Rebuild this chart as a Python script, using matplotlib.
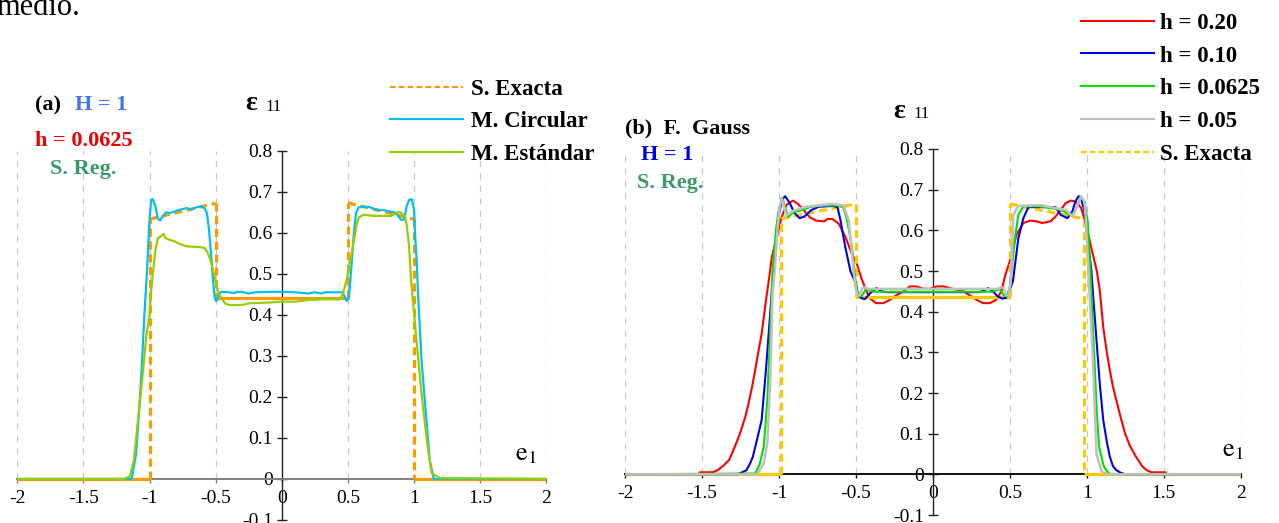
import numpy as np
import matplotlib.pyplot as plt
from matplotlib.collections import LineCollection
from matplotlib.lines import Line2D

plt.rcParams['font.family'] = ['Liberation Serif', 'DejaVu Serif']
plt.rcParams['axes.unicode_minus'] = False
plt.rcParams['mathtext.fontset'] = 'stix'

W, H = 1279, 523

# ---- axis ticks --------------------------------------------------------
x_ticks = [-2, -1.5, -1, -0.5, 0, 0.5, 1, 1.5, 2]
x_tick_labels = ['-2', '-1.5', '-1', '-0.5', '0', '0.5', '1', '1.5', '2']
y_ticks = [-0.1, 0, 0.1, 0.2, 0.3, 0.4, 0.5, 0.6, 0.7, 0.8]
y_tick_labels = ['-0.1', '0', '0.1', '0.2', '0.3', '0.4', '0.5', '0.6', '0.7', '0.8']
grid_x = [-2, -1.5, -1, -0.5, 0.5, 1, 1.5, 2]

# ---- (a) regularised solution, H = 1, h = 0.0625 -----------------------
exact_a_x = [-2, -1, -1, -0.5, -0.5, 0.5, 0.5, 1, 1, 2]
exact_a_y = [0, 0, 0.633, 0.672, 0.44, 0.44, 0.673, 0.633, 0, 0]

circ_a_x = [-2, -1.14, -1.133, -1.118, -1.102, -1.087, -1.07, -1.056, -1.04, -1.019,
            -1.008, -1.0, -0.987, -0.975, -0.955, -0.937, -0.92, -0.9, -0.874, -0.85,
            -0.81, -0.773, -0.72, -0.684, -0.646, -0.61, -0.583, -0.566, -0.55, -0.533,
            -0.52, -0.508, -0.497, -0.487, -0.475, -0.455, -0.40, -0.36, -0.34, -0.30,
            -0.25, -0.20, -0.10, 0.0, 0.10, 0.20, 0.25, 0.30, 0.33, 0.38,
            0.42, 0.46, 0.475, 0.49, 0.505, 0.515, 0.528, 0.545, 0.561, 0.58,
            0.62, 0.66, 0.697, 0.735, 0.773, 0.81, 0.85, 0.874, 0.90, 0.925,
            0.944, 0.962, 0.982, 1.0, 1.008, 1.02, 1.03, 1.056, 1.087, 1.118,
            1.149, 2]
circ_a_y = [0, 0, 0.002, 0.03, 0.06, 0.127, 0.21, 0.288, 0.393, 0.506,
            0.58, 0.632, 0.68, 0.682, 0.664, 0.635, 0.63, 0.64, 0.65, 0.648,
            0.652, 0.656, 0.66, 0.657, 0.662, 0.664, 0.66, 0.648, 0.607, 0.542,
            0.485, 0.445, 0.434, 0.436, 0.452, 0.456, 0.455, 0.453, 0.456, 0.456,
            0.452, 0.455, 0.456, 0.456, 0.455, 0.452, 0.455, 0.452, 0.455, 0.455,
            0.455, 0.455, 0.445, 0.434, 0.44, 0.47, 0.526, 0.6, 0.648, 0.662,
            0.663, 0.663, 0.658, 0.656, 0.655, 0.652, 0.65, 0.644, 0.632, 0.632,
            0.665, 0.68, 0.682, 0.655, 0.59, 0.53, 0.45, 0.29, 0.167, 0.046,
            0, 0]

est_a_x = [-2, -1.196, -1.149, -1.118, -1.087, -1.056, -1.025, -1.0, -0.99, -0.975,
           -0.955, -0.937, -0.912, -0.894, -0.88, -0.85, -0.81, -0.773, -0.72, -0.62,
           -0.583, -0.558, -0.533, -0.508, -0.492, -0.475, -0.455, -0.43, -0.40, -0.30,
           -0.25, -0.10, 0.0, 0.10, 0.20, 0.30, 0.44, 0.46, 0.49, 0.51,
           0.528, 0.55, 0.565, 0.583, 0.62, 0.697, 0.823, 0.861, 0.886, 0.904,
           0.93, 0.944, 0.962, 0.978, 1.009, 1.056, 1.102, 1.133, 1.196, 2]
est_a_y = [0, 0, 0.006, 0.046, 0.143, 0.24, 0.345, 0.40, 0.45, 0.50,
           0.558, 0.587, 0.592, 0.597, 0.587, 0.583, 0.579, 0.573, 0.567, 0.565,
           0.563, 0.55, 0.526, 0.493, 0.469, 0.452, 0.44, 0.428, 0.424, 0.424,
           0.428, 0.43, 0.432, 0.432, 0.436, 0.438, 0.438, 0.45, 0.485, 0.52,
           0.55, 0.591, 0.62, 0.638, 0.644, 0.641, 0.641, 0.648, 0.651, 0.648,
           0.64, 0.62, 0.567, 0.482, 0.369, 0.208, 0.08, 0.014, 0.002, 0]

# ---- (b) Gauss filter, H = 1, several mesh sizes -----------------------
exact_b_x = [-2, -0.985, -0.985, -0.5, -0.5, 0.5, 0.5, 0.985, 0.985, 2]
exact_b_y = [0, 0, 0.629, 0.665, 0.435, 0.435, 0.665, 0.628, 0, 0]

h020_x = [-2, -1.52, -1.515, -1.43, -1.40, -1.36, -1.325, -1.29, -1.254, -1.22,
          -1.198, -1.175, -1.155, -1.135, -1.113, -1.085, -1.065, -1.047, -1.015, -0.983,
          -0.951, -0.909, -0.877, -0.845, -0.80, -0.76, -0.707, -0.685, -0.653, -0.611,
          -0.568, -0.526, -0.494, -0.465, -0.44, -0.41, -0.37, -0.32, -0.28, -0.235,
          -0.19, -0.15, -0.105, -0.06, -0.02, 0.025, 0.07, 0.11, 0.155, 0.2,
          0.24, 0.285, 0.325, 0.37, 0.41, 0.445, 0.47, 0.50, 0.544, 0.588,
          0.632, 0.676, 0.709, 0.764, 0.797, 0.83, 0.863, 0.896, 0.93, 0.963,
          0.996, 1.029, 1.065, 1.085, 1.107, 1.13, 1.15, 1.17, 1.192, 1.22,
          1.249, 1.28, 1.32, 1.36, 1.39, 1.42, 1.51, 1.515, 2]
h020_y = [0, 0, 0.005, 0.005, 0.01, 0.022, 0.035, 0.065, 0.10, 0.14,
          0.174, 0.215, 0.256, 0.30, 0.345, 0.427, 0.48, 0.533, 0.583, 0.632,
          0.663, 0.673, 0.665, 0.652, 0.632, 0.624, 0.622, 0.628, 0.628, 0.616,
          0.583, 0.542, 0.517, 0.483, 0.458, 0.433, 0.421, 0.421, 0.429, 0.441,
          0.45, 0.462, 0.462, 0.456, 0.456, 0.462, 0.462, 0.458, 0.454, 0.45,
          0.44, 0.429, 0.421, 0.421, 0.429, 0.45, 0.49, 0.524, 0.59, 0.618,
          0.624, 0.622, 0.618, 0.622, 0.634, 0.65, 0.667, 0.673, 0.671, 0.655,
          0.614, 0.557, 0.5, 0.45, 0.361, 0.30, 0.255, 0.215, 0.182, 0.14,
          0.10, 0.07, 0.043, 0.02, 0.01, 0.005, 0.005, 0, 0]

h010_x = [-2, -1.268, -1.24, -1.212, -1.19, -1.17, -1.14, -1.113, -1.085, -1.056,
          -1.037, -1.02, -1.0, -0.98, -0.96, -0.93, -0.9, -0.866, -0.834, -0.79,
          -0.74, -0.65, -0.62, -0.60, -0.57, -0.536, -0.506, -0.485, -0.463, -0.442,
          -0.409, -0.366, -0.333, -0.30, 0.30, 0.33, 0.36, 0.39, 0.42, 0.45,
          0.475, 0.50, 0.52, 0.555, 0.588, 0.62, 0.797, 0.83, 0.874, 0.907,
          0.925, 0.947, 0.962, 0.984, 1.006, 1.03, 1.045, 1.065, 1.085, 1.107,
          1.13, 1.15, 1.17, 1.192, 1.22, 1.25, 2]
h010_y = [0, 0, 0.005, 0.01, 0.025, 0.043, 0.09, 0.133, 0.256, 0.402,
          0.5, 0.58, 0.64, 0.675, 0.684, 0.667, 0.643, 0.63, 0.634, 0.65,
          0.658, 0.66, 0.657, 0.624, 0.56, 0.5, 0.474, 0.441, 0.433, 0.431,
          0.445, 0.458, 0.45, 0.448, 0.448, 0.452, 0.458, 0.45, 0.438, 0.432,
          0.434, 0.455, 0.475, 0.58, 0.63, 0.657, 0.657, 0.638, 0.63, 0.647,
          0.671, 0.684, 0.68, 0.647, 0.58, 0.5, 0.42, 0.32, 0.22, 0.133,
          0.08, 0.043, 0.02, 0.01, 0.004, 0, 0]

h00625_x = [-2, -1.155, -1.127, -1.099, -1.076, -1.056, -1.042, -1.02, -1.0, -0.977,
            -0.94, -0.909, -0.866, -0.80, -0.717, -0.61, -0.58, -0.557, -0.526, -0.51,
            -0.495, -0.48, -0.46, -0.435, -0.41, -0.38, 0.38, 0.41, 0.435, 0.46,
            0.48, 0.50, 0.511, 0.533, 0.555, 0.588, 0.687, 0.797, 0.852, 0.885,
            0.918, 0.94, 0.962, 0.984, 1.006, 1.024, 1.037, 1.05, 1.065, 1.08,
            1.11, 1.14, 1.16, 2]
h00625_y = [0, 0.002, 0.023, 0.068, 0.182, 0.362, 0.5, 0.6, 0.655, 0.677,
            0.632, 0.644, 0.648, 0.657, 0.661, 0.661, 0.655, 0.624, 0.559, 0.5,
            0.455, 0.437, 0.44, 0.455, 0.452, 0.449, 0.449, 0.452, 0.456, 0.44,
            0.437, 0.46, 0.5, 0.58, 0.638, 0.659, 0.659, 0.653, 0.647, 0.638,
            0.643, 0.663, 0.68, 0.671, 0.622, 0.5, 0.38, 0.28, 0.15, 0.068,
            0.02, 0.003, 0, 0]

h005_x = [-2, -1.141, -1.099, -1.076, -1.056, -1.042, -1.028, -1.01, -0.995, -0.983,
          -0.951, -0.909, -0.823, -0.653, -0.58, -0.547, -0.53, -0.515, -0.50, -0.49,
          -0.475, -0.46, -0.44, -0.42, 0.42, 0.44, 0.46, 0.475, 0.49, 0.505,
          0.515, 0.522, 0.555, 0.70, 0.863, 0.907, 0.933, 0.962, 0.984, 0.995,
          1.01, 1.04, 1.063, 1.097, 1.14, 2]
h005_y = [0, 0, 0.027, 0.076, 0.24, 0.443, 0.5, 0.6, 0.66, 0.68,
          0.636, 0.648, 0.658, 0.665, 0.661, 0.624, 0.56, 0.5, 0.455, 0.44,
          0.44, 0.458, 0.46, 0.456, 0.456, 0.46, 0.458, 0.44, 0.44, 0.47,
          0.55, 0.638, 0.66, 0.662, 0.65, 0.634, 0.655, 0.684, 0.671, 0.62,
          0.5, 0.28, 0.05, 0.006, 0, 0]

fig = plt.figure(figsize=(W / 100, H / 100), dpi=100)

EXACT_DASH = (0, (2.5, 1.5))


def fig_xy(x, y):
    return x / W, 1 - y / H


def exact_lines(x, y, color, lw):
    # flat parts of the exact solution are drawn solid, jumps and slopes dashed
    pts = np.column_stack([x, y])
    segs = np.stack([pts[:-1], pts[1:]], axis=1)
    flat = np.isclose(np.diff(y), 0)
    styles = ['solid' if f else EXACT_DASH for f in flat]
    return LineCollection(segs, colors=color, linewidths=lw, linestyles=styles,
                          zorder=3)


def setup(ax, xaxis_color):
    ax.set_xlim(-2, 2)
    ax.set_ylim(-0.1, 0.8)
    ax.patch.set_visible(False)
    for side in ('top', 'right'):
        ax.spines[side].set_visible(False)
    ax.spines['left'].set_position(('data', 0))
    ax.spines['bottom'].set_position(('data', 0))
    ax.spines['left'].set_color('#222222')
    ax.spines['bottom'].set_color(xaxis_color)
    ax.spines['left'].set_linewidth(1.0)
    ax.spines['bottom'].set_linewidth(1.4)
    ax.set_xticks(x_ticks, x_tick_labels)
    ax.set_yticks(y_ticks, y_tick_labels)
    ax.tick_params(axis='y', direction='inout', length=7, width=1.0,
                   labelsize=14, pad=3, color='#222222')
    ax.tick_params(axis='x', direction='out', length=3, width=1.0,
                   labelsize=14, pad=5, color=xaxis_color)
    ax.vlines(grid_x, 0, 0.8, colors='#c8c8c8', linestyles=(0, (5, 5)),
              linewidth=0.9, zorder=0)


leg_font = {'family': 'Liberation Serif', 'weight': 'bold', 'size': 16.5}

# ---------------- panel (a) ----------------
ax_a = fig.add_axes([17.2 / W, 3 / H, 529.2 / W, 369.3 / H])
setup(ax_a, '#808080')
ax_a.add_collection(exact_lines(exact_a_x, exact_a_y, '#FF9900', 2.3))
ax_a.plot(circ_a_x, circ_a_y, color='#00C0F0', lw=1.6, zorder=4)
ax_a.plot(est_a_x, est_a_y, color='#99CC00', lw=1.6, zorder=5)

handles_a = [Line2D([], [], color='#FF9900', lw=1.6, linestyle=EXACT_DASH),
             Line2D([], [], color='#00C0F0', lw=1.6),
             Line2D([], [], color='#99CC00', lw=1.6)]
ax_a.legend(handles_a, ['S. Exacta', 'M. Circular', 'M. Estándar'],
            loc='upper left', bbox_to_anchor=fig_xy(390, 78.5),
            bbox_transform=fig.transFigure, frameon=False, prop=leg_font,
            handlelength=3.2, handletextpad=0.35, labelspacing=0.5,
            borderpad=0, borderaxespad=0)

# ---------------- panel (b) ----------------
ax_b = fig.add_axes([625.1 / W, 8 / H, 615.6 / W, 366 / H])
setup(ax_b, '#111111')
ax_b.plot(h020_x, h020_y, color='#FF0000', lw=1.5, zorder=3)
ax_b.plot(h010_x, h010_y, color='#0000F0', lw=1.5, zorder=4)
ax_b.plot(h00625_x, h00625_y, color='#00E000', lw=1.5, zorder=5)
ax_b.plot(h005_x, h005_y, color='#C0C0C0', lw=1.8, zorder=6)
ax_b.add_collection(exact_lines(exact_b_x, exact_b_y, '#FFC800', 2.3))

handles_b = [Line2D([], [], color='#FF0000', lw=1.5),
             Line2D([], [], color='#0000F0', lw=1.5),
             Line2D([], [], color='#00E000', lw=1.5),
             Line2D([], [], color='#C0C0C0', lw=1.5),
             Line2D([], [], color='#FFC800', lw=1.6, linestyle=EXACT_DASH)]
ax_b.legend(handles_b, ['h = 0.20', 'h = 0.10', 'h = 0.0625', 'h = 0.05', 'S. Exacta'],
            loc='upper left', bbox_to_anchor=fig_xy(1081, 12.5),
            bbox_transform=fig.transFigure, frameon=False, prop=leg_font,
            handlelength=3.2, handletextpad=0.25, labelspacing=0.52,
            borderpad=0, borderaxespad=0)

# ---------------- labels ----------------
bold = dict(fontweight='bold', fontsize=16, va='center')
fig.text(*fig_xy(-4, 15), 'medio.', fontsize=22, va='baseline')

fig.text(*fig_xy(35, 105), '(a)', color='black', **bold)
fig.text(*fig_xy(75, 105), 'H = 1', color='#4472F0', **bold)
fig.text(*fig_xy(35, 141), 'h = 0.0625', color='#EE0000', **bold)
fig.text(*fig_xy(50, 169), 'S. Reg.', color='#3A9A6A', **bold)

fig.text(*fig_xy(625, 128), '(b)  F.  Gauss', color='black', **bold)
fig.text(*fig_xy(641, 155), 'H = 1', color='#0000E6', **bold)
fig.text(*fig_xy(637, 183), 'S. Reg.', color='#3A9A6A', **bold)

for ex, ey in [(245, 104), (893, 111)]:
    fig.text(*fig_xy(ex, ey), 'ε', fontsize=20, fontweight='bold', va='center')
    fig.text(*fig_xy(ex + 20, ey + 3), '11', fontsize=12, va='center')

fig.text(*fig_xy(515, 455), r'$\mathrm{e}_1$', fontsize=19, va='center')
fig.text(*fig_xy(1222, 451), r'$\mathrm{e}_1$', fontsize=19, va='center')

fig.savefig('out.png', dpi=100)
